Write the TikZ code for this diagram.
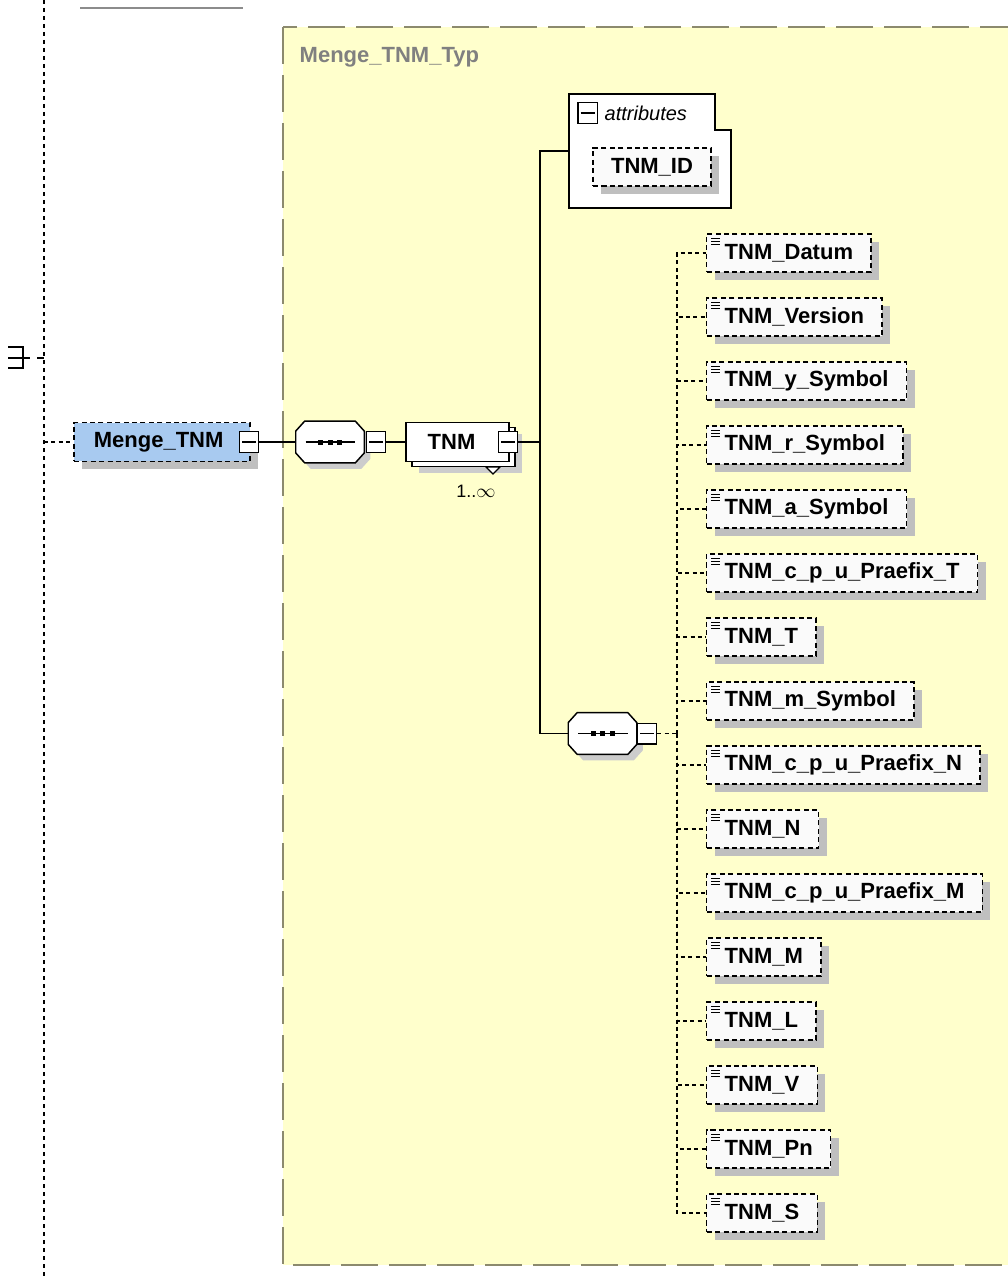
\documentclass[tikz, border = 0pt]{standalone}
\usepackage{fontspec}
\setmainfont{Liberation Sans}
\usetikzlibrary{calc, shadows}
\definecolor{typyellow}{RGB}{255, 255, 204}
\definecolor{typborder}{RGB}{140, 138, 110}
\definecolor{rootblue}{RGB}{168, 202, 240}

\begin{document}
\begin{tikzpicture}[x = 0.75pt, y = -0.75pt,
  region/.style = {draw = typborder, line width = 1.2pt, fill = typyellow,
    dash pattern = on 28pt off 8pt},
  bus/.style = {line width = 1.2pt},
  link/.style = {line width = 1pt, dash pattern = on 3pt off 2.5pt},
  element/.style = {draw, line width = 1.1pt, dash pattern = on 3.8pt off 2.5pt,
    fill = black!2, font = \fontsize{16.5}{18}\selectfont\bfseries,
    inner xsep = 13.5pt, inner ysep = 0pt, minimum height = 28.5pt,
    drop shadow = {shadow xshift = 6pt, shadow yshift = -6pt, fill = black!25, opacity = 1}},
  comp/.style = {draw, line width = 1.1pt, fill = white, minimum width = 77pt,
    minimum height = 29pt, font = \fontsize{16.5}{18}\selectfont\bfseries},
  minus/.style = {draw, line width = 1pt, fill = white, minimum width = 14.5pt,
    minimum height = 15.5pt, inner sep = 0pt,
    path picture = {\draw ([xshift = 2pt] path picture bounding box.west) to
      ([xshift = -2pt] path picture bounding box.east);}},
  sequence/.style = {minimum width = 51pt, minimum height = 31pt, inner sep = 0pt}]
\useasboundingbox (0, 0) rectangle (1007, 1277);
%\draw [very thin, color = gray] (0, 0) grid [step = 50] (1007, 1277);

% outer frame
\draw [line width = 1pt, dash pattern = on 3pt off 3pt] (44, 0) to (44, 1277);
\draw [line width = 1.5pt, color = black!45] (80, 8) to (243, 8);
\draw [line width = 1.1pt] (8, 347) to (23, 347) to (23, 368) to (8, 368);
\draw [line width = 1.1pt] (8, 358) to (30, 358);
\draw [line width = 1pt] (37, 358) to (44, 358);

% complex type region
\draw [region] (283, 27) rectangle (1020, 1265);
\node [anchor = west, color = black!50, font = \fontsize{16.5}{18}\selectfont\bfseries]
  (typ) at (295, 57) {Menge\_TNM\_Typ};

% root element
\node [element, fill = rootblue, minimum width = 132pt, minimum height = 29pt,
  inner xsep = 0pt] (root) at (162, 442) {Menge\_TNM\hspace*{5pt}};
\node [minus] (rootm) at (249, 442) {};
\draw [link] (44, 442) to (root.west);

% sequences
\node [sequence] (s1) at (330, 442) {};
\node [sequence] (s2) at (602.5, 733.5) {};
\foreach \s in {s1, s2} {
  \fill [black!20] ($(\s.north west) + (15, 6)$) to ($(\s.north east) + (-3, 6)$)
    to ($(\s.north east) + (6, 16)$) to ($(\s.south east) + (6, -4)$)
    to ($(\s.south east) + (-3, 6)$) to ($(\s.south west) + (15, 6)$)
    to ($(\s.south west) + (6, -4)$) to ($(\s.north west) + (6, 16)$) to cycle;
  \draw [line width = 1.1pt, fill = white] ($(\s.north west) + (9, 0)$)
    to ($(\s.north east) + (-9, 0)$) to ($(\s.north east) + (0, 10)$)
    to ($(\s.south east) + (0, -10)$) to ($(\s.south east) + (-9, 0)$)
    to ($(\s.south west) + (9, 0)$) to ($(\s.south west) + (0, -10)$)
    to ($(\s.north west) + (0, 10)$) to cycle;
  \draw [line width = 1pt] ($(\s.west) + (10, 0)$) to ($(\s.east) + (-9, 0)$);
  \foreach \d in {-9.5, 0, 9.5}
    \fill ($(\s) + (\d, 0)$) +(-2.5, -2.5) rectangle +(2.5, 2.5);
}
\node [minus] (s1m) at (376, 442) {};
\node [minus] (s2m) at (647, 733.5) {};

% TNM
\node [comp, drop shadow = {shadow xshift = 5pt, shadow yshift = -5pt, fill = black!20, opacity = 1}]
  (tnmback) at (463.5, 447) {};
\node [comp] (tnm) at (457.5, 442) {TNM\hspace*{9pt}};
\node [minus] (tnmm) at (508, 442) {};
\draw [line width = 1pt, fill = white] (486, 467) to (500, 467) to (493, 474) to cycle;
\node [font = \fontsize{13.5}{15}\selectfont] (occ) at (476, 491) {1..$\infty$};
\draw [bus] (rootm.east) to (s1.west);
\draw [bus] (s1m.east) to (tnm.west);

% attributes
\coordinate (bus1) at (540, 442);
\coordinate (attr) at (569, 151);
\draw [line width = 1.1pt, fill = white] (569, 94) to (715, 94) to (715, 130) to (731, 130)
  to (731, 208) to (569, 208) to cycle;
\node [minus] (attrm) at (587.5, 113) {};
\node [anchor = west, font = \fontsize{15}{17}\selectfont\itshape] (attrl) at (600, 113) {attributes};
\node [element] (id) at (652, 167) {TNM\_ID};
\draw [bus] (tnmm.east) to (bus1) |- (attr);

% second sequence links
\coordinate (bus2) at (677, 733.5);
\draw [bus] (bus1) |- (s2.west);
\draw [link] (s2m.east) to (bus2);

% child elements
\foreach \name [count = \i] in {TNM\_Datum, TNM\_Version, TNM\_y\_Symbol, TNM\_r\_Symbol,
    TNM\_a\_Symbol, TNM\_c\_p\_u\_Praefix\_T, TNM\_T, TNM\_m\_Symbol,
    TNM\_c\_p\_u\_Praefix\_N, TNM\_N, TNM\_c\_p\_u\_Praefix\_M, TNM\_M, TNM\_L,
    TNM\_V, TNM\_Pn, TNM\_S} {
  \node [element, anchor = west] (e\i) at (706, {253 + 64*(\i - 1)}) {\name};
  \foreach \k in {5, 8, 11}
    \draw [line width = 0.8pt] ($(e\i.north west) + (5, \k)$) to ++(9, 0);
  \draw [link] (bus2) |- (e\i.west);
}
\end{tikzpicture}
\end{document}
